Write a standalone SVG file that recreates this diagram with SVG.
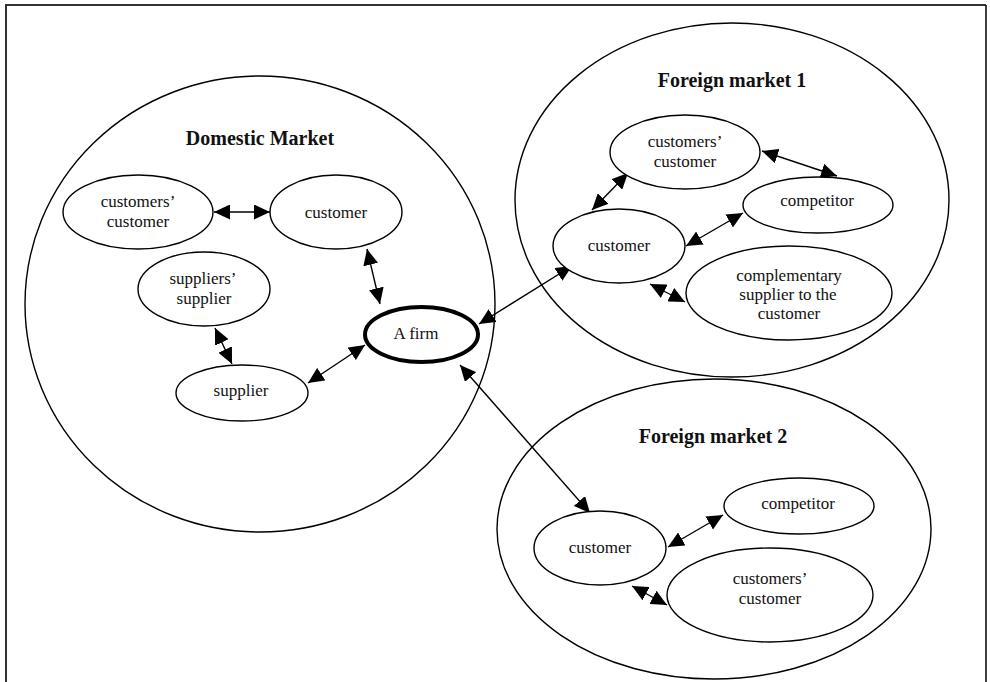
<svg xmlns="http://www.w3.org/2000/svg" width="990" height="682" viewBox="0 0 990 682">
  <style>
    .market { fill: none; stroke: #000; stroke-width: 1.4; }
    .node { fill: #fff; stroke: #000; stroke-width: 1.4; }
    .firm { fill: #fff; stroke: #000; stroke-width: 4; }
    .title { font-family: "Liberation Serif", "Times New Roman", serif; font-size: 20px; font-weight: bold; text-anchor: middle; fill: #111; }
    .label { font-family: "Liberation Serif", "Times New Roman", serif; font-size: 17px; text-anchor: middle; fill: #111; }
    .link { fill: none; stroke: #000; stroke-width: 1.4; marker-start: url(#head); marker-end: url(#head); }
  </style>
  <defs>
    <marker id="head" viewBox="0 0 16 15" markerWidth="16" markerHeight="15" refX="16" refY="7.5" markerUnits="userSpaceOnUse" orient="auto-start-reverse">
      <path d="M0,0 L16,7.5 L0,15 z" fill="#000"/>
    </marker>
  </defs>

  <rect width="990" height="682" fill="#fff"/>

  <!-- frame (open at the bottom) -->
  <g id="frame" fill="none">
    <path d="M6,682 V5 H986" stroke="#333" stroke-width="2"/>
    <path d="M986,5 V682" stroke="#111" stroke-width="1.6"/>
  </g>

  <!-- market areas -->
  <g id="domestic-market">
    <ellipse class="market" cx="260" cy="304" rx="235" ry="228"/>
    <text class="title" x="260" y="145">Domestic Market</text>
  </g>
  <g id="foreign-market-1">
    <ellipse class="market" cx="732" cy="200" rx="217" ry="177"/>
    <text class="title" x="732" y="87">Foreign market 1</text>
  </g>
  <g id="foreign-market-2">
    <ellipse class="market" cx="714" cy="529" rx="217" ry="150"/>
    <text class="title" x="713" y="443">Foreign market 2</text>
  </g>

  <!-- connectors -->
  <g id="connectors">
    <line class="link" x1="214" y1="212" x2="270" y2="212"/>
    <line class="link" x1="367" y1="249" x2="380" y2="304"/>
    <line class="link" x1="215" y1="328" x2="232" y2="364"/>
    <line class="link" x1="308" y1="383" x2="365" y2="345"/>
    <line class="link" x1="479" y1="324" x2="572" y2="266"/>
    <line class="link" x1="460" y1="365" x2="590" y2="513"/>
    <line class="link" x1="628" y1="173" x2="592" y2="210"/>
    <line class="link" x1="762" y1="151" x2="837" y2="176"/>
    <line class="link" x1="743" y1="213" x2="686" y2="246"/>
    <line class="link" x1="650" y1="284" x2="685" y2="302"/>
    <line class="link" x1="723" y1="515" x2="668" y2="547"/>
    <line class="link" x1="632" y1="586" x2="667" y2="605"/>
  </g>

  <!-- domestic market nodes -->
  <g id="dm-customers-customer">
    <ellipse class="node" cx="138" cy="212" rx="75" ry="37"/>
    <text class="label" x="138" y="207">customers’</text>
    <text class="label" x="138" y="227">customer</text>
  </g>
  <g id="dm-customer">
    <ellipse class="node" cx="336" cy="212" rx="66" ry="37"/>
    <text class="label" x="336" y="218">customer</text>
  </g>
  <g id="dm-suppliers-supplier">
    <ellipse class="node" cx="204" cy="289" rx="66" ry="37"/>
    <text class="label" x="203" y="284">suppliers’</text>
    <text class="label" x="204" y="304">supplier</text>
  </g>
  <g id="firm">
    <ellipse class="firm" cx="421.5" cy="334.5" rx="56.5" ry="27.5"/>
    <text class="label" x="416" y="339">A firm</text>
  </g>
  <g id="dm-supplier">
    <ellipse class="node" cx="242" cy="393" rx="66" ry="28"/>
    <text class="label" x="241" y="396">supplier</text>
  </g>

  <!-- foreign market 1 nodes -->
  <g id="fm1-customers-customer">
    <ellipse class="node" cx="685" cy="152" rx="75" ry="37"/>
    <text class="label" x="685" y="147">customers’</text>
    <text class="label" x="685" y="167">customer</text>
  </g>
  <g id="fm1-competitor">
    <ellipse class="node" cx="818" cy="205" rx="75" ry="28"/>
    <text class="label" x="817" y="206">competitor</text>
  </g>
  <g id="fm1-customer">
    <ellipse class="node" cx="619" cy="246" rx="66" ry="37"/>
    <text class="label" x="619" y="251">customer</text>
  </g>
  <g id="fm1-complementary-supplier">
    <ellipse class="node" cx="789" cy="293" rx="103" ry="47"/>
    <text class="label" x="789" y="281">complementary</text>
    <text class="label" x="788" y="300">supplier to the</text>
    <text class="label" x="789" y="319">customer</text>
  </g>

  <!-- foreign market 2 nodes -->
  <g id="fm2-competitor">
    <ellipse class="node" cx="799" cy="506" rx="75" ry="28"/>
    <text class="label" x="798" y="509">competitor</text>
  </g>
  <g id="fm2-customer">
    <ellipse class="node" cx="600" cy="548" rx="66" ry="37"/>
    <text class="label" x="600" y="553">customer</text>
  </g>
  <g id="fm2-customers-customer">
    <ellipse class="node" cx="770" cy="595" rx="103" ry="47"/>
    <text class="label" x="770" y="584">customers’</text>
    <text class="label" x="770" y="604">customer</text>
  </g>
</svg>
